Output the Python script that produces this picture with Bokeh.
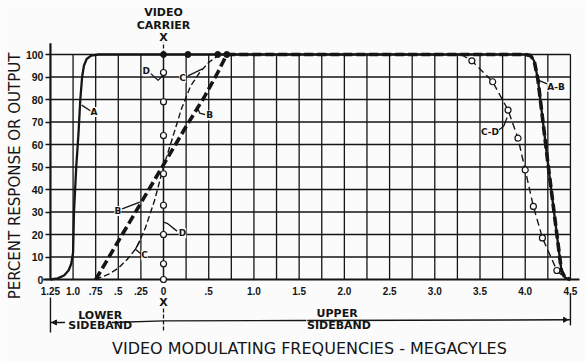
from math import pi
from bokeh.plotting import figure
from bokeh.models import Range1d, FixedTicker
from bokeh.core.properties import value
from bokeh.embed import file_html
from bokeh.resources import INLINE

# ---------------- data ----------------
x_ticks = [-1.25, -1.0, -0.75, -0.5, -0.25, 0, 0.5, 1.0, 1.5, 2.0, 2.5, 3.0, 3.5, 4.0, 4.5]
x_tick_labels = ["1.25", "1.0", ".75", ".5", ".25", "0", ".5", "1.0", "1.5",
                 "2.0", "2.5", "3.0", "3.5", "4.0", "4.5"]
y_ticks = [0, 10, 20, 30, 40, 50, 60, 70, 80, 90, 100]

# curve A (solid)
a_x = [-1.25, -1.17, -1.1, -1.05, -1.02, -1.0, -0.99, -0.965, -0.94, -0.92, -0.9, -0.88,
       -0.85, -0.8, -0.72, 4.0, 4.06, 4.1, 4.14, 4.25, 4.4, 4.44, 4.5]
a_y = [0, 0.5, 1.8, 4, 7, 12, 30, 50, 65, 80, 90, 95, 98, 99.5, 100, 100, 99.5, 97, 89,
       52, 4, 0.8, 0]
# curve B (heavy dashed)
b_x = [-0.75, -0.5, -0.25, 0, 0.25, 0.45, 0.6, 0.7, 4.0, 4.06, 4.1, 4.14, 4.25, 4.4, 4.44, 4.5]
b_y = [0, 17, 34, 51, 68, 81, 92, 100, 100, 99.5, 97, 89, 52, 4, 0.8, 0]
# curve C (light dashed)
c_x = [-0.75, -0.6, -0.5, -0.4, -0.3, -0.2, -0.1, 0, 0.1, 0.2, 0.3, 0.4, 0.5, 0.62, 3.29]
c_y = [0, 2.5, 5, 9, 14, 23, 35, 50, 63, 76, 86, 92, 96.5, 100, 100]
# curve C-D (dashed with circles)
cd_x = [3.29, 3.41, 3.64, 3.81, 3.92, 4.0, 4.09, 4.19, 4.35, 4.44]
cd_y = [100, 97.2, 87.9, 75.3, 62.8, 48.7, 32.5, 18.5, 4, 0.7]
cd_pts_x = [3.41, 3.64, 3.81, 3.92, 4.0, 4.09, 4.19, 4.35]
cd_pts_y = [97.2, 87.9, 75.3, 62.8, 48.7, 32.5, 18.5, 4]
# curve D (vertical at carrier)
d_x = [0, 0]
d_y = [0, 100]
d_pts_x = [0, 0, 0, 0, 0, 0, 0, 0]
d_pts_y = [0, 7, 20, 33, 47, 64, 79, 92]
top_dots_x = [0, 0.27, 0.6, 0.7]
top_dots_y = [100, 100, 100, 100]

# curve labels and leaders
lab_text = ["A", "D", "C", "B", "B", "D", "C", "A-B", "C-D"]
lab_x = [-0.77, -0.19, 0.21, 0.51, -0.505, 0.21, -0.21, 4.34, 3.61]
lab_y = [74.4, 92.6, 89.6, 72.9, 30.4, 20.6, 10.7, 85.7, 65.7]
lead_xs = [[-0.905, -0.80], [-0.14, -0.06, -0.01], [0.27, 0.43], [0.37, 0.40, 0.46],
           [-0.457, -0.262], [0.0, 0.04, 0.15], [-0.26, -0.31, -0.25],
           [4.15, 4.25], [3.69, 3.76, 3.80]]
lead_ys = [[77.5, 74.8], [91.5, 88.5, 90.5], [90.5, 93.6], [77, 74, 73.3],
           [31.4, 34.4], [25.5, 25, 21.5], [17.3, 13.5, 11.5],
           [88.5, 86.8], [66, 68, 72]]

INK = "#151515"
BG = "#fbfbfb"

p = figure(width=586, height=361, x_range=Range1d(-1.8025, 4.6776),
           y_range=Range1d(-36.44, 124.0), output_backend="svg",
           toolbar_location=None, min_border=0)
p.min_border_left = p.min_border_right = p.min_border_top = p.min_border_bottom = 0
p.outline_line_color = None
p.background_fill_color = BG
p.border_fill_color = BG
p.xgrid.grid_line_color = None
p.ygrid.grid_line_color = None

# ---- chart grid: vertical rules every 0.25, horizontal every 10 ----
p.line([-1.0, -1.0], [0, 100], line_color=INK, line_width=1.3)
p.line([-0.75, -0.75], [0, 100], line_color=INK, line_width=1.3)
p.line([-0.5, -0.5], [0, 100], line_color=INK, line_width=1.3)
p.line([-0.25, -0.25], [0, 100], line_color=INK, line_width=1.3)
p.line([0.25, 0.25], [0, 100], line_color=INK, line_width=1.3)
p.line([0.5, 0.5], [0, 100], line_color=INK, line_width=1.3)
p.line([0.75, 0.75], [0, 100], line_color=INK, line_width=1.3)
p.line([1.0, 1.0], [0, 100], line_color=INK, line_width=1.3)
p.line([1.25, 1.25], [0, 100], line_color=INK, line_width=1.3)
p.line([1.5, 1.5], [0, 100], line_color=INK, line_width=1.3)
p.line([1.75, 1.75], [0, 100], line_color=INK, line_width=1.3)
p.line([2.0, 2.0], [0, 100], line_color=INK, line_width=1.3)
p.line([2.25, 2.25], [0, 100], line_color=INK, line_width=1.3)
p.line([2.5, 2.5], [0, 100], line_color=INK, line_width=1.3)
p.line([2.75, 2.75], [0, 100], line_color=INK, line_width=1.3)
p.line([3.0, 3.0], [0, 100], line_color=INK, line_width=1.3)
p.line([3.25, 3.25], [0, 100], line_color=INK, line_width=1.3)
p.line([3.5, 3.5], [0, 100], line_color=INK, line_width=1.3)
p.line([3.75, 3.75], [0, 100], line_color=INK, line_width=1.3)
p.line([4.0, 4.0], [0, 100], line_color=INK, line_width=1.3)
p.line([4.25, 4.25], [0, 100], line_color=INK, line_width=1.3)
p.line([4.5, 4.5], [0, 100], line_color=INK, line_width=1.3)
p.line([-1.25, 4.5], [10, 10], line_color=INK, line_width=1.3)
p.line([-1.25, 4.5], [20, 20], line_color=INK, line_width=1.3)
p.line([-1.25, 4.5], [30, 30], line_color=INK, line_width=1.3)
p.line([-1.25, 4.5], [40, 40], line_color=INK, line_width=1.3)
p.line([-1.25, 4.5], [50, 50], line_color=INK, line_width=1.3)
p.line([-1.25, 4.5], [60, 60], line_color=INK, line_width=1.3)
p.line([-1.25, 4.5], [70, 70], line_color=INK, line_width=1.3)
p.line([-1.25, 4.5], [80, 80], line_color=INK, line_width=1.3)
p.line([-1.25, 4.5], [90, 90], line_color=INK, line_width=1.3)
p.line([-1.25, 4.5], [100, 100], line_color=INK, line_width=1.6)

# axes
xa = p.xaxis[0]
xa.fixed_location = 0
xa.ticker = FixedTicker(ticks=x_ticks)
xa.major_label_overrides = {t: l for t, l in zip(x_ticks, x_tick_labels)}
xa.axis_line_color = None
xa.major_tick_line_color = None
xa.minor_tick_line_color = None
xa.major_label_standoff = 1
xa.major_label_text_font = "Liberation Sans"
xa.major_label_text_font_style = "bold"
xa.major_label_text_font_size = "10px"
xa.major_label_text_color = INK

ya = p.yaxis[0]
ya.fixed_location = -1.25
ya.ticker = FixedTicker(ticks=y_ticks)
ya.axis_line_color = None
ya.major_tick_out = 5
ya.major_tick_in = 0
ya.major_tick_line_color = INK
ya.major_tick_line_width = 1.3
ya.minor_tick_line_color = None
ya.major_label_standoff = 2
ya.major_label_text_font = "Liberation Sans"
ya.major_label_text_font_style = "bold"
ya.major_label_text_font_size = "10.5px"
ya.major_label_text_color = INK

# frame lines
p.line([-1.25, -1.25], [0, 105], line_color=INK, line_width=2.2)
p.line([-1.33, 4.6], [0, 0], line_color=INK, line_width=2.0)

# curves
p.line(a_x, a_y, line_color=INK, line_width=2.3)
p.line(b_x, b_y, line_color=INK, line_width=3.6, line_dash="9 4")
p.line(c_x, c_y, line_color=INK, line_width=1.4, line_dash="6 3")
p.line(cd_x, cd_y, line_color=INK, line_width=1.4, line_dash="7 4")
p.line(d_x, d_y, line_color=INK, line_width=1.5)
p.scatter(d_pts_x, d_pts_y, marker="circle", size=6, line_color=INK, line_width=1.2,
          fill_color=BG)
p.scatter(cd_pts_x, cd_pts_y, marker="circle", size=6, line_color=INK, line_width=1.2,
          fill_color=BG)
p.scatter(top_dots_x, top_dots_y, marker="circle", size=6, line_color=INK, fill_color=INK)

# labels with leaders
p.multi_line(lead_xs, lead_ys, line_color=INK, line_width=1.3)
p.text(lab_x, lab_y, text=lab_text, text_font=value("DejaVu Sans"), text_font_style="bold",
       text_font_size=value("9px"), text_color=INK, text_align="center",
       text_baseline="middle", background_fill_color=BG)

# carrier marks
p.segment(x0=[0, 0], y0=[100, -12.9], x1=[0, 0], y1=[105.5, -23.6], line_color=INK,
          line_width=1.3, line_dash="4 2")
p.text([0, 0, 0, 0], [118.7, 113.1, 107.6, -10.2], text=["VIDEO", "CARRIER", "X", "X"],
       text_font=value("DejaVu Sans"), text_font_style="bold",
       text_font_size=value("11px"), text_color=INK, text_align="center",
       text_baseline="middle")

# sideband brackets
p.segment(x0=[-1.25, 4.5], y0=[-8.0, -6.2], x1=[-1.25, 4.5], y1=[-23.6, -20.4],
          line_color=INK, line_width=1.4)
p.segment(x0=[-1.25, -0.57, 0, 1.59], y0=[-19.1, -19.1, -18.4, -18.2],
          x1=[-1.09, 0, 1.58, 4.5], y1=[-19.1, -18.4, -18.2, -17.9],
          line_color=INK, line_width=1.4)
p.scatter([-1.2, 4.44], [-19.1, -17.9], marker="triangle", angle=[pi / 2, -pi / 2],
          size=5, line_color=INK, fill_color=INK)
p.text([-0.7, -0.7, 1.92, 1.94], [-16.0, -20.6, -15.3, -20.3],
       text=["LOWER", "SIDEBAND", "UPPER", "SIDEBAND"],
       text_font=value("DejaVu Sans"), text_font_style="bold",
       text_font_size=value("11px"), text_color=INK, text_align="center",
       text_baseline="middle")

# axis titles
p.text([-1.637], [46.0], text=["PERCENT RESPONSE OR OUTPUT"], angle=pi / 2,
       text_font=value("DejaVu Sans"), text_font_size=value("15px"), text_color=INK,
       text_align="center", text_baseline="middle")
p.text([1.614], [-30.7], text=["VIDEO MODULATING FREQUENCIES - MEGACYLES"],
       text_font=value("DejaVu Sans"), text_font_size=value("16px"), text_color=INK,
       text_align="center", text_baseline="middle")

open("out.html", "w").write(file_html(p, INLINE))
